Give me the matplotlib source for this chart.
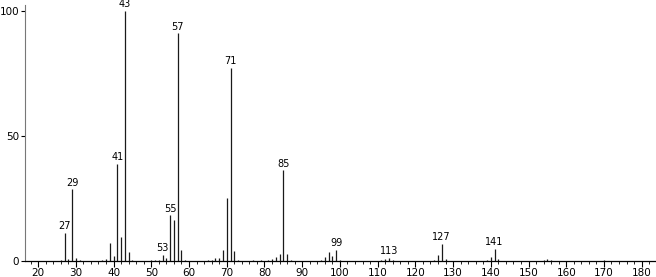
import matplotlib.pyplot as plt
from matplotlib.ticker import MultipleLocator

# mass spectrum: m/z and relative intensity
mz = [26, 27, 28, 29, 30, 31, 37, 38, 39, 40, 41, 42, 43, 44, 45,
      50, 51, 52, 53, 54, 55, 56, 57, 58, 59, 65, 66, 67, 68, 69,
      70, 71, 72, 73, 77, 79, 81, 82, 83, 84, 85, 86, 87, 95, 96,
      97, 98, 99, 100, 111, 112, 113, 114, 125, 126, 127, 128, 139, 140, 141,
      142, 154, 155, 156, 170]
intensity = [0.5, 11.3, 0.8, 28.7, 1.0, 0.3, 0.3, 0.6, 7.2, 2.0, 38.8, 9.6, 100, 3.6, 0.5,
             0.3, 0.4, 0.5, 2.4, 1.0, 18.3, 16.4, 91.0, 4.3, 0.3, 0.3, 0.4, 1.2, 1.0, 4.5,
             25.0, 77.3, 4.1, 0.4, 0.3, 0.3, 0.5, 0.7, 1.5, 2.9, 36.3, 2.7, 0.5, 0.5, 1.5,
             3.6, 1.8, 4.5, 0.5, 0.5, 0.8, 1.2, 0.5, 0.5, 2.4, 6.8, 0.6, 0.3, 1.5, 4.8,
             0.6, 0.4, 0.9, 0.5, 0.3]
labelled = [27, 29, 41, 43, 53, 55, 57, 71, 85, 99, 113, 127, 141]

fig = plt.figure(figsize=(6.56, 2.77), dpi=100)
ax = fig.add_axes([0.038, 0.058, 0.962, 0.924])

ax.vlines(mz, 0, intensity, color='#1a1a1a', linewidth=0.9)
for m, h in zip(mz, intensity):
    if m in labelled:
        ax.text(m, h + 0.6, str(m), ha='center', va='bottom', fontsize=7)

ax.set_xlim(16.5, 183.8)
ax.set_ylim(0, 102.4)
ax.xaxis.set_major_locator(MultipleLocator(10))
ax.xaxis.set_minor_locator(MultipleLocator(2))
ax.set_yticks([0, 50, 100])
ax.tick_params(axis='x', which='major', length=4, width=0.8, labelsize=7.5, pad=1)
ax.tick_params(axis='x', which='minor', length=2, width=0.6)
ax.tick_params(axis='y', length=3, width=0.8, labelsize=7.5, pad=1)

for s in ['top', 'right']:
    ax.spines[s].set_visible(False)
ax.spines['left'].set_color('#777777')
ax.spines['bottom'].set_linewidth(0.9)

fig.savefig('out.png', dpi=100)
